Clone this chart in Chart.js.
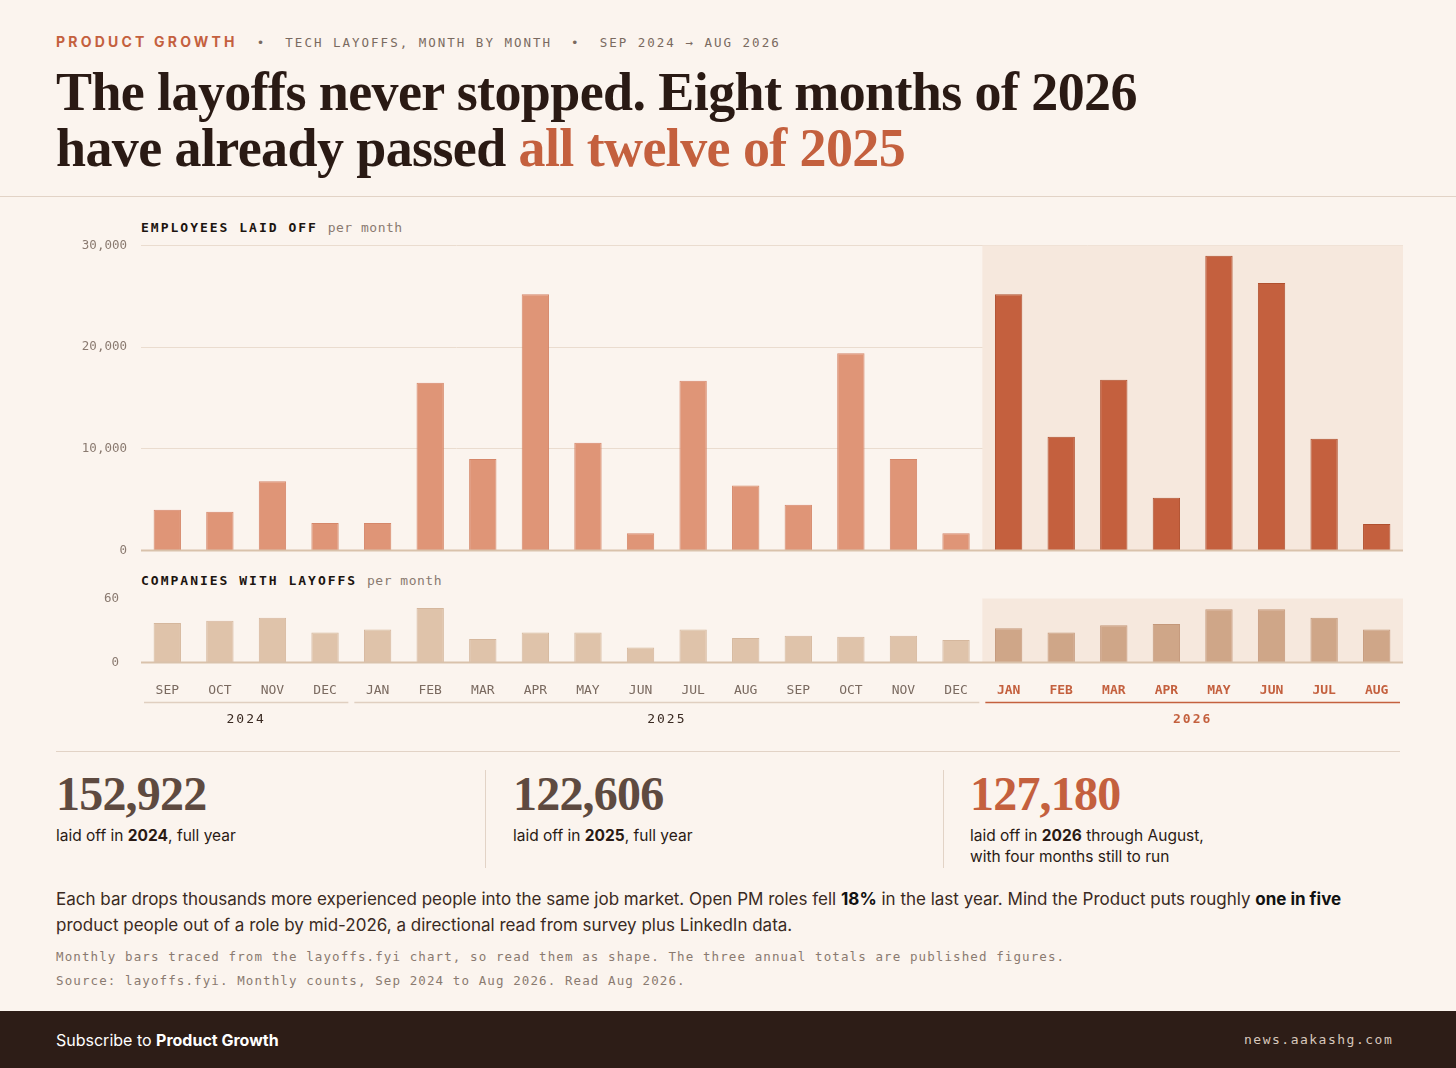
<!DOCTYPE html>
<html><head><meta charset="utf-8">
<script src="https://cdn.jsdelivr.net/npm/chart.js@4"></script>
<style>
body{margin:0;width:1456px;height:1068px;background:#fbf4ee;font-family:Inter,sans-serif;position:relative;overflow:hidden;color:#2a1a14}
.abs{position:absolute}
.mono{font-family:"DejaVu Sans Mono",monospace}
.kicker{left:56px;top:33px;font-size:12.5px;letter-spacing:2px;color:#7a6a60}
.kicker b{color:#c4603e;font-family:Inter;font-weight:700;letter-spacing:3.2px;font-size:14px}
h1{position:absolute;left:56px;top:64px;margin:0;font-family:"Liberation Serif",serif;font-weight:700;font-size:54px;line-height:56px;letter-spacing:-0.6px;color:#2a1a14}
h1 span{color:#c4603e}
.rule{left:0;width:1456px;top:196px;height:1px;background:#e2d3c6}
.lbl{font-size:13px;letter-spacing:2px;font-weight:700;color:#1c1410}
.lbl i{font-style:normal;font-weight:400;letter-spacing:0.5px;color:#8a7a70}
.big{font-family:"Liberation Serif",serif;font-weight:700;font-size:48px;letter-spacing:-0.8px;color:#5e4a40}
.sub{font-size:15.5px;line-height:21px;color:#2a1a14}
.vline{width:1px;background:#e2d3c6;top:770px;height:98px}
.para{left:56px;top:886px;width:1330px;font-size:17px;line-height:26px;color:#3a2a22}
.note{left:56px;font-size:12.5px;color:#8a7a70;letter-spacing:1.1px}
.foot{left:0;top:1011px;width:1456px;height:57px;background:#2d1d17}
</style></head><body>
<div class="abs kicker mono"><b>PRODUCT GROWTH</b> &nbsp;•&nbsp; TECH LAYOFFS, MONTH BY MONTH &nbsp;•&nbsp; SEP 2024 → AUG 2026</div>
<h1>The layoffs never stopped. Eight months of 2026<br>have already passed <span>all twelve of 2025</span></h1>
<div class="abs rule"></div>
<div class="abs lbl mono" style="left:141px;top:220px">EMPLOYEES LAID OFF <i>per month</i></div>
<div class="abs" style="left:56px;top:224px;width:1347px;height:348px"><canvas id="c1"></canvas></div>
<div class="abs lbl mono" style="left:141px;top:573px">COMPANIES WITH LAYOFFS <i>per month</i></div>
<div class="abs" style="left:56px;top:577px;width:1347px;height:183px"><canvas id="c2"></canvas></div>
<div class="abs rule" style="left:56px;width:1344px;top:751px"></div>
<div class="abs big" style="left:56px;top:766px">152,922</div>
<div class="abs sub" style="left:56px;top:825px">laid off in <b>2024</b>, full year</div>
<div class="abs vline" style="left:485px"></div>
<div class="abs big" style="left:513px;top:766px">122,606</div>
<div class="abs sub" style="left:513px;top:825px">laid off in <b>2025</b>, full year</div>
<div class="abs vline" style="left:943px"></div>
<div class="abs big" style="left:970px;top:766px;color:#c4603e">127,180</div>
<div class="abs sub" style="left:970px;top:825px">laid off in <b>2026</b> through August,<br>with four months still to run</div>
<div class="abs para">Each bar drops thousands more experienced people into the same job market. Open PM roles fell <b style="color:#111">18%</b> in the last year. Mind the Product puts roughly <b style="color:#111">one in five</b> product people out of a role by mid-2026, a directional read from survey plus LinkedIn data.</div>
<div class="abs note mono" style="top:949px">Monthly bars traced from the layoffs.fyi chart, so read them as shape. The three annual totals are published figures.</div>
<div class="abs note mono" style="top:973px">Source: layoffs.fyi. Monthly counts, Sep 2024 to Aug 2026. Read Aug 2026.</div>
<div class="abs foot"></div>
<div class="abs" style="left:56px;top:1030px;color:#fff;font-size:16px">Subscribe to <b>Product Growth</b></div>
<div class="abs mono" style="left:1244px;top:1032px;color:#d8c8bc;font-size:13px;letter-spacing:1.5px">news.aakashg.com</div>
<script>
const months = ['SEP','OCT','NOV','DEC','JAN','FEB','MAR','APR','MAY','JUN','JUL','AUG','SEP','OCT','NOV','DEC','JAN','FEB','MAR','APR','MAY','JUN','JUL','AUG'];
const years = ['2024','2024','2024','2024','2025','2025','2025','2025','2025','2025','2025','2025','2025','2025','2025','2025','2026','2026','2026','2026','2026','2026','2026','2026'];
const employees = [4000,3800,6800,2700,2700,16500,9000,25200,10600,1700,16700,6400,4500,19400,9000,1700,25200,11200,16800,5200,29000,26300,11000,2600];
const companies = [37,39,42,28,31,51,22,28,28,14,31,23,25,24,25,21,32,28,35,36,50,50,42,31];
const yearGroups = [{label:'2024',from:0,to:3},{label:'2025',from:4,to:15},{label:'2026',from:16,to:23}];

const mono = 'DejaVu Sans Mono';
const is26 = i => years[i] === '2026';

const shade = {
  id:'shade',
  beforeDatasetsDraw(chart){
    const {ctx, chartArea, scales} = chart;
    const x0 = (scales.x.getPixelForValue(15) + scales.x.getPixelForValue(16)) / 2;
    ctx.save();
    ctx.fillStyle = '#f6e8dd';
    ctx.fillRect(x0, chartArea.top, chartArea.right - x0, chartArea.bottom - chartArea.top);
    ctx.restore();
  },
  afterDatasetsDraw(chart){
    const {ctx, chartArea} = chart;
    ctx.save();
    ctx.strokeStyle = '#d9c2ab'; ctx.lineWidth = 2;
    ctx.beginPath(); ctx.moveTo(chartArea.left, chartArea.bottom); ctx.lineTo(chartArea.right, chartArea.bottom); ctx.stroke();
    ctx.restore();
  }
};

const yearPlugin = {
  id:'years',
  afterDraw(chart){
    const {ctx, scales, chartArea} = chart;
    const x = scales.x;
    const half = (x.getPixelForValue(1) - x.getPixelForValue(0))/2;
    const yl = chartArea.bottom + 40, yt = chartArea.bottom + 61;
    ctx.save();
    yearGroups.forEach(g => {
      const a = x.getPixelForValue(g.from) - half + 3, b = x.getPixelForValue(g.to) + half - 3;
      const hot = g.label === '2026';
      ctx.strokeStyle = hot ? '#c4603e' : '#e0cfc0'; ctx.lineWidth = 1.5;
      ctx.beginPath(); ctx.moveTo(a, yl); ctx.lineTo(b, yl); ctx.stroke();
      ctx.fillStyle = hot ? '#c4603e' : '#3a2a22';
      ctx.font = (hot ? 'bold ' : '') + '13px ' + mono;
      ctx.letterSpacing = '2px';
      ctx.textAlign = 'center';
      ctx.fillText(g.label, (a+b)/2, yt);
    });
    ctx.restore();
  }
};

function yAxis(max, step){
  return {
    min:0, max:max,
    border:{display:false},
    grid:{color:'#eadccf', drawTicks:false},
    ticks:{stepSize:step, padding:14, color:'#8a7a70', font:{family:mono, size:12.5},
      callback:v => v.toLocaleString('en-US')},
    afterFit(s){ s.width = 85; }
  };
}

new Chart(document.getElementById('c1'), {
  type:'bar',
  data:{labels:months, datasets:[{
    data:employees,
    backgroundColor:employees.map((v,i) => is26(i) ? '#c4603e' : '#df9577'),
    borderColor:employees.map((v,i) => is26(i) ? '#b0502f' : '#d5876a'),
    borderWidth:1, barPercentage:0.52, categoryPercentage:1
  }]},
  options:{
    animation:false, responsive:true, maintainAspectRatio:false,
    layout:{padding:{top:0, bottom:0, right:0}},
    plugins:{legend:{display:false}, tooltip:{enabled:false}},
    scales:{x:{display:false}, y:yAxis(30000,10000)}
  },
  plugins:[shade]
});

new Chart(document.getElementById('c2'), {
  type:'bar',
  data:{labels:months, datasets:[{
    data:companies,
    backgroundColor:companies.map((v,i) => is26(i) ? '#cfa688' : '#dfc3aa'),
    borderColor:companies.map((v,i) => is26(i) ? '#c4987a' : '#d5b79d'),
    borderWidth:1, barPercentage:0.52, categoryPercentage:1
  }]},
  options:{
    animation:false, responsive:true, maintainAspectRatio:false,
    layout:{padding:{top:0, bottom:50, right:0}},
    plugins:{legend:{display:false}, tooltip:{enabled:false}},
    scales:{
      x:{border:{display:false}, grid:{display:false},
        ticks:{padding:12, autoSkip:false, maxRotation:0,
          color:ctx => is26(ctx.index) ? '#c4603e' : '#7a6a60',
          font:ctx => ({family:mono, size:13, weight: is26(ctx.index) ? 'bold' : 'normal'})}},
      y:Object.assign(yAxis(60,60), {grid:{display:false}})
    }
  },
  plugins:[shade, yearPlugin]
});
</script>
</body></html>
